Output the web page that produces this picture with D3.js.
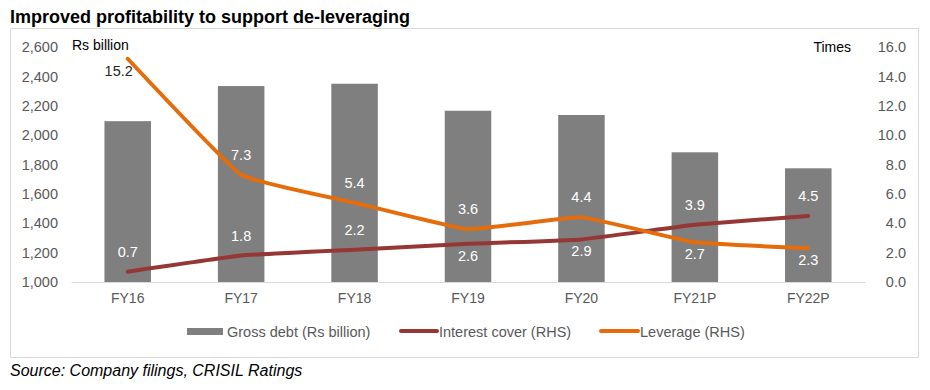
<!DOCTYPE html>
<html>
<head>
<meta charset="utf-8">
<script src="https://cdn.jsdelivr.net/npm/d3@7"></script>
<style>
  body { margin: 0; background: #fff; }
  text { font-family: "Liberation Sans", Arial, sans-serif; }
</style>
</head>
<body>
<svg id="chart" width="930" height="390"></svg>
<script>
// chart data
let years = ["FY16", "FY17", "FY18", "FY19", "FY20", "FY21P", "FY22P"];
let grossDebt = [2095, 2334, 2350, 2166, 2137, 1883, 1774];
let interestCover = [0.7, 1.8, 2.2, 2.6, 2.9, 3.9, 4.5];
let leverage = [15.2, 7.3, 5.4, 3.6, 4.4, 2.7, 2.3];
let leftTicks = [1000, 1200, 1400, 1600, 1800, 2000, 2200, 2400, 2600];
let rightTicks = [0, 2, 4, 6, 8, 10, 12, 14, 16];
// where each data label sits relative to its point
let coverLabelSide = ["up", "up", "up", "down", "down", "up", "up"];
let leverageLabelSide = ["down", "up", "up", "up", "up", "down", "down"];

let svg = d3.select("#chart");

let plotTop = 47, plotBottom = 282, plotLeft = 71, plotRight = 865;
let font = "Liberation Sans, Arial, sans-serif";

let x = d3.scaleBand()
    .domain(years)
    .range([plotLeft, plotRight])
    .paddingInner(0.59)
    .paddingOuter(0.295);

let yLeft = d3.scaleLinear().domain([1000, 2600]).range([plotBottom, plotTop]);
let yRight = d3.scaleLinear().domain([0, 16]).range([plotBottom, plotTop]);

// frame
svg.append("path")
    .attr("d", "M10.5,28.5 H918.5 V357.5 H10.5 Z")
    .attr("fill", "none")
    .attr("stroke", "#d9d9d9");

svg.append("text")
    .attr("x", 10)
    .attr("y", 23)
    .attr("font-size", 18)
    .attr("font-weight", "bold")
    .attr("fill", "#000")
    .text("Improved profitability to support de-leveraging");

// left axis
let gLeft = svg.append("g")
    .attr("transform", "translate(" + (plotLeft - 10) + ",0)")
    .call(d3.axisLeft(yLeft).tickValues(leftTicks).tickSize(0).tickFormat(d3.format(",")));
gLeft.select(".domain").remove();
gLeft.selectAll("text").attr("font-size", 14.5).attr("fill", "#595959").attr("font-family", font);

// right axis
let gRight = svg.append("g")
    .attr("transform", "translate(" + (plotRight + 44) + ",0)")
    .call(d3.axisLeft(yRight).tickValues(rightTicks).tickSize(0).tickFormat(d3.format(".1f")));
gRight.select(".domain").remove();
gRight.selectAll("text").attr("font-size", 14.5).attr("fill", "#595959").attr("font-family", font);

// bars
svg.append("g")
    .selectAll("rect")
    .data(grossDebt)
    .enter().append("rect")
    .attr("x", (d, i) => x(years[i]))
    .attr("y", d => yLeft(d))
    .attr("width", x.bandwidth())
    .attr("height", d => plotBottom - yLeft(d))
    .attr("fill", "#7f7f7f");

// x axis
let gX = svg.append("g")
    .attr("transform", "translate(0," + plotBottom + ")")
    .call(d3.axisBottom(x).tickSize(0).tickPadding(11));
gX.select(".domain").attr("stroke", "#d9d9d9");
gX.selectAll("text").attr("font-size", 14).attr("fill", "#595959").attr("font-family", font);

let cx = i => x(years[i]) + x.bandwidth() / 2;

let line = d3.line()
    .x((d, i) => cx(i))
    .y(d => yRight(d))
    .curve(d3.curveCardinal.tension(0.7));

svg.append("path")
    .datum(interestCover)
    .attr("d", line)
    .attr("fill", "none")
    .attr("stroke", "#953735")
    .attr("stroke-width", 4)
    .attr("stroke-linecap", "round");

svg.append("path")
    .datum(leverage)
    .attr("d", line)
    .attr("fill", "none")
    .attr("stroke", "#e46c0a")
    .attr("stroke-width", 4)
    .attr("stroke-linecap", "round");

function addLabels(values, sides, cls) {
    svg.append("g")
        .selectAll("text")
        .data(values)
        .enter().append("text")
        .attr("class", cls)
        .attr("x", (d, i) => cx(i))
        .attr("y", (d, i) => yRight(d) + (sides[i] == "up" ? -15 : 17))
        .attr("text-anchor", "middle")
        .attr("font-size", 14.5)
        .attr("fill", "#fff")
        .text(d => d3.format(".1f")(d));
}
addLabels(interestCover, coverLabelSide, "cover-label");
addLabels(leverage, leverageLabelSide, "lev-label");

// first leverage label sits outside the bar, in dark text, left of the point
svg.selectAll(".lev-label")
    .filter((d, i) => i == 0)
    .attr("x", cx(0) - 9)
    .attr("fill", "#262626");

svg.append("text").attr("x", 72).attr("y", 50).attr("font-size", 14).attr("fill", "#000").text("Rs billion");
svg.append("text").attr("x", 851).attr("y", 52).attr("text-anchor", "end").attr("font-size", 14).attr("fill", "#000").text("Times");

// legend
let legend = svg.append("g").attr("transform", "translate(0,332)");
legend.append("rect").attr("x", 187).attr("y", -4).attr("width", 36).attr("height", 7).attr("fill", "#7f7f7f");
legend.append("text").attr("x", 227).attr("y", 5).attr("font-size", 14.5).attr("fill", "#595959").text("Gross debt (Rs billion)");
legend.append("line").attr("x1", 401).attr("x2", 437).attr("y1", -1).attr("y2", -1).attr("stroke", "#953735").attr("stroke-width", 4).attr("stroke-linecap", "round");
legend.append("text").attr("x", 439).attr("y", 5).attr("font-size", 14.5).attr("fill", "#595959").text("Interest cover (RHS)");
legend.append("line").attr("x1", 601).attr("x2", 638).attr("y1", -1).attr("y2", -1).attr("stroke", "#e46c0a").attr("stroke-width", 4).attr("stroke-linecap", "round");
legend.append("text").attr("x", 640).attr("y", 5).attr("font-size", 14.5).attr("fill", "#595959").text("Leverage (RHS)");

svg.append("text")
    .attr("x", 10)
    .attr("y", 376)
    .attr("font-size", 16)
    .attr("font-style", "italic")
    .attr("fill", "#000")
    .text("Source: Company filings, CRISIL Ratings");
</script>
</body>
</html>
